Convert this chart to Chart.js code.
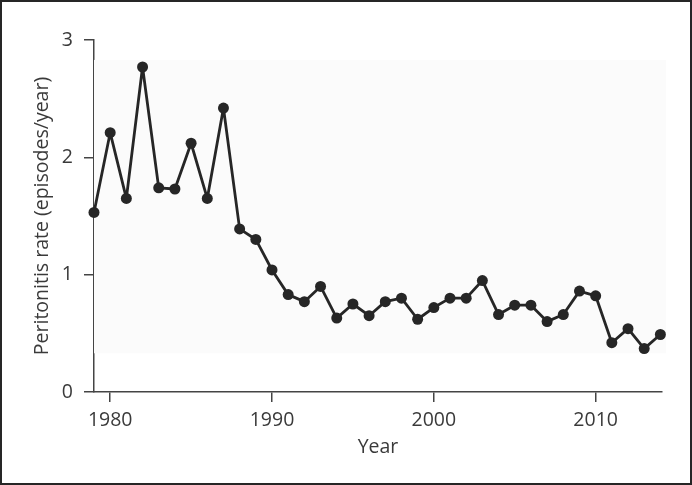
<!DOCTYPE html>
<html lang="en">
<head>
  <meta charset="UTF-8">
  <title>Peritonitis rate by year</title>
  <script src="https://cdn.jsdelivr.net/npm/chart.js"></script>
  <style>
    html, body {
      margin: 0;
      padding: 0;
      background: #fff;
    }
    .frame {
      width: 692px;
      height: 485px;
      box-sizing: border-box;
      border: 2px solid #262626;
      position: relative;
    }
    #rateChart {
      position: absolute;
      left: -2px;
      top: -2px;
    }
  </style>
</head>
<body>
  <div class="frame">
    <canvas id="rateChart" width="692" height="485"></canvas>
  </div>

  <script>
    // data
    const years = [1979, 1980, 1981, 1982, 1983, 1984, 1985, 1986, 1987, 1988, 1989,
      1990, 1991, 1992, 1993, 1994, 1995, 1996, 1997, 1998, 1999,
      2000, 2001, 2002, 2003, 2004, 2005, 2006, 2007, 2008, 2009,
      2010, 2011, 2012, 2013, 2014];
    const rates = [1.53, 2.21, 1.65, 2.77, 1.74, 1.73, 2.12, 1.65, 2.42, 1.39, 1.30,
      1.04, 0.83, 0.77, 0.90, 0.63, 0.75, 0.65, 0.77, 0.80, 0.62,
      0.72, 0.80, 0.80, 0.95, 0.66, 0.74, 0.74, 0.60, 0.66, 0.86,
      0.82, 0.42, 0.54, 0.37, 0.49];
    const xTicks = [1980, 1990, 2000, 2010];
    const yTicks = [0, 1, 2, 3];

    const ink = "#262626";
    const textColor = "#3a3a3a";
    const fontFamily = "'Open Sans', sans-serif";
    const fontSize = 19.5;

    // faint grey panel behind the line (as in the scanned figure)
    const panelBg = {
      id: "panelBg",
      beforeDatasetsDraw(chart) {
        const { ctx, chartArea, scales } = chart;
        const top = scales.y.getPixelForValue(2.83);
        const bottom = scales.y.getPixelForValue(0.33);
        ctx.save();
        ctx.fillStyle = "#fbfbfb";
        ctx.fillRect(chartArea.left, top, chartArea.right + 4 - chartArea.left, bottom - top);
        ctx.restore();
      }
    };

    new Chart(document.getElementById("rateChart"), {
      type: "line",
      data: {
        datasets: [{
          label: "Peritonitis rate",
          data: years.map((y, i) => ({ x: y, y: rates[i] })),
          borderColor: ink,
          backgroundColor: ink,
          borderWidth: 2.8,
          borderJoinStyle: "round",
          pointRadius: 5.5,
          pointHoverRadius: 5.5,
          pointBorderWidth: 0,
          tension: 0,
          clip: false
        }]
      },
      options: {
        responsive: false,
        animation: false,
        events: [],
        layout: {
          padding: { left: 0, right: 30, top: 40, bottom: 0 }
        },
        plugins: {
          legend: { display: false },
          tooltip: { enabled: false }
        },
        scales: {
          x: {
            type: "linear",
            min: 1979,
            max: 2014.1,
            afterBuildTicks: (s) => { s.ticks = xTicks.map(v => ({ value: v })); },
            afterFit: (s) => { s.height = 93; },
            border: { display: true, color: "#444", width: 1.5 },
            grid: {
              drawOnChartArea: false,
              drawTicks: true,
              tickLength: 10,
              tickColor: "#444",
              lineWidth: 1.5
            },
            ticks: {
              color: textColor,
              padding: 7,
              maxRotation: 0,
              font: { family: fontFamily, size: fontSize },
              callback: (v) => String(v)
            },
            title: {
              display: true,
              text: "Year",
              color: textColor,
              font: { family: fontFamily, size: fontSize },
              padding: { top: 4, bottom: 26 }
            }
          },
          y: {
            min: 0,
            max: 3,
            afterBuildTicks: (s) => { s.ticks = yTicks.map(v => ({ value: v })); },
            afterFit: (s) => { s.width = 94; },
            border: { display: true, color: "#444", width: 1.5 },
            grid: {
              drawOnChartArea: false,
              drawTicks: true,
              tickLength: 10,
              tickColor: "#444",
              lineWidth: 1.5
            },
            ticks: {
              color: textColor,
              padding: 11,
              font: { family: fontFamily, size: fontSize }
            },
            title: {
              display: true,
              text: "Peritonitis rate (episodes/year)",
              color: textColor,
              font: { family: fontFamily, size: fontSize },
              padding: { top: 31, bottom: 0 }
            }
          }
        }
      },
      plugins: [panelBg]
    });
  </script>
</body>
</html>
